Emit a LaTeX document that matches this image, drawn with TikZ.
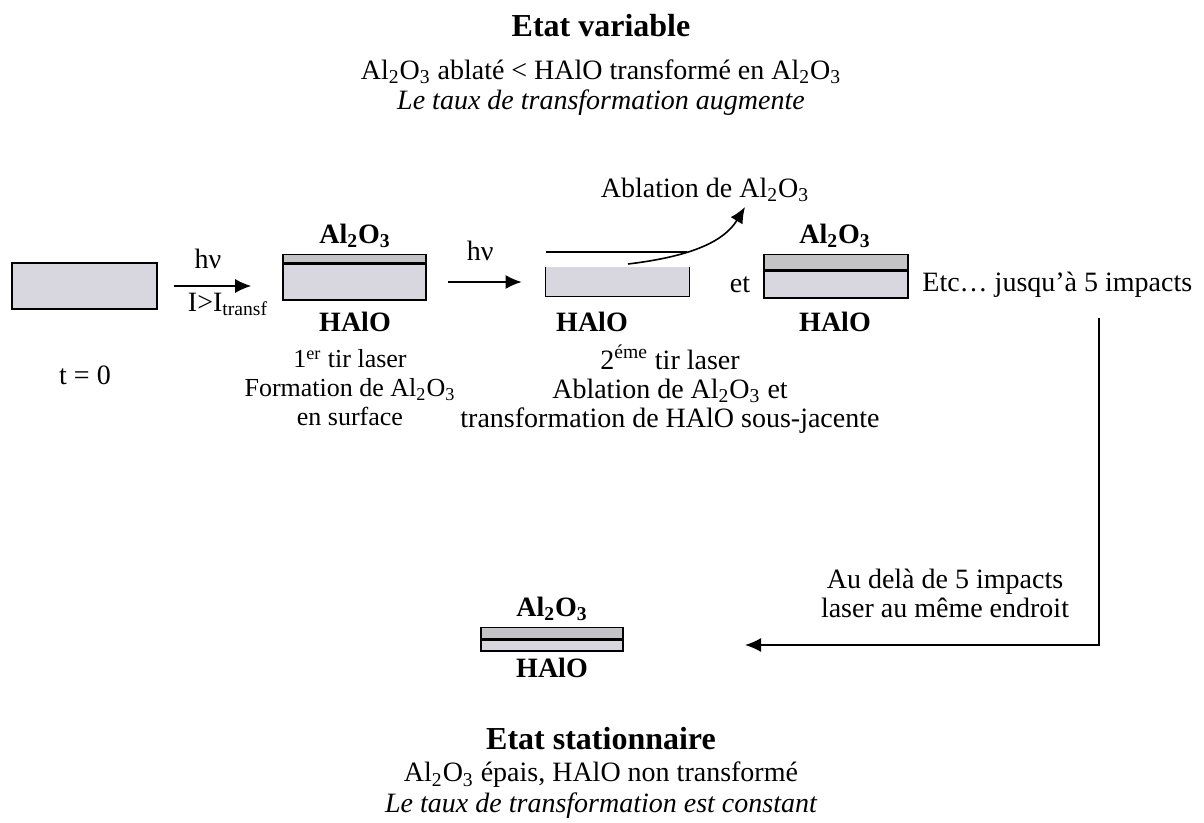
\documentclass[tikz,border=0pt]{standalone}
\usepackage{fontspec}
\setmainfont{Liberation Serif}
\usepackage{xcolor}
\usetikzlibrary{arrows.meta}

\definecolor{halogris}{RGB}{216,215,224}
\definecolor{alugris}{RGB}{196,196,198}
\newcommand{\alo}{Al\textsubscript{2}O\textsubscript{3}}

\tikzset{
  txt/.style={font=\fontsize{14}{14.5}\selectfont, align=center, inner sep=0pt},
  petit/.style={txt, font=\fontsize{13}{14.5}\selectfont},
  titre/.style={font=\fontsize{16}{16}\selectfont\bfseries, inner sep=0pt},
  gras/.style={font=\fontsize{14}{14}\selectfont\bfseries, inner sep=0pt},
  couche/.style={draw, line width=0.8pt, inner sep=0pt, fill=halogris},
  surcouche/.style={couche, fill=alugris},
  fleche/.style={-{Latex[length=8pt,width=7pt]}, line width=0.8pt}
}

\begin{document}
\begin{tikzpicture}[x=0.5pt, y=-0.5pt]
    \useasboundingbox (0,0) rectangle (1204,823);

    % Etat variable (top)
    \node[titre] (tvar) at (601,26) {Etat variable};
    \node[txt] (bilan1) at (601,72) {\alo{} ablaté < HAlO transformé en \alo};
    \node[txt, font=\fontsize{14}{14.5}\selectfont\itshape] (taux1) at (601,103) {Le taux de transformation augmente};

    % t = 0
    \node[couche, minimum width=72.5pt, minimum height=23pt] (b0) at (84.5,286) {};
    \node[txt] (t0) at (85,375) {t = 0};

    % 1er tir
    \node[couche, minimum width=71.5pt, minimum height=18pt] (b1) at (354.5,282) {};
    \node[surcouche, minimum width=71.5pt, minimum height=4pt, anchor=south] (a1) at (b1.north) {};
    \node[gras] (al1) at (355,236) {\alo};
    \node[gras] (h1) at (355,322) {HAlO};
    \node[petit] (tir1) at (350,388) {1\textsuperscript{er} tir laser\\Formation de \alo\\en surface};

    % 2eme tir : ablation
    \node[fill=halogris, minimum width=71.5pt, minimum height=14.5pt, inner sep=0pt] (b2) at (617.5,281.5) {};
    \draw[line width=0.8pt] (b2.north west) |- (b2.south east) -- (b2.north east);
    \coordinate (s2g) at (546,252);
    \coordinate (s2d) at (687,252);
    \draw[line width=0.6pt] (s2g) -- (s2d);
    \node[gras] (h2) at (592,322) {HAlO};
    \node[txt] (abl) at (705,190) {Ablation de \alo};
    \coordinate (dep) at (628,264);
    \coordinate (arr) at (745,207);

    % et : nouvelle couche
    \node[txt] (et) at (740,285) {et};
    \node[couche, minimum width=72pt, minimum height=13.5pt] (b3) at (836,284.5) {};
    \node[surcouche, minimum width=72pt, minimum height=7.5pt, anchor=south] (a3) at (b3.north) {};
    \node[gras] (al3) at (835,236) {\alo};
    \node[gras] (h3) at (835,322) {HAlO};
    \node[txt, anchor=west] (etc) at (922,285) {Etc… jusqu’à 5 impacts};
    \node[txt] (tir2) at (670,389) {2\textsuperscript{éme} tir laser\\Ablation de \alo{} et\\transformation de HAlO sous-jacente};

    % Etat stationnaire
    \node[couche, minimum width=71pt, minimum height=5.5pt] (b4) at (552,645.5) {};
    \node[surcouche, minimum width=71pt, minimum height=5.5pt, anchor=south] (a4) at (b4.north) {};
    \node[gras] (al4) at (552,609) {\alo};
    \node[gras] (h4) at (552,668) {HAlO};
    \node[txt] (audela) at (945,593) {Au delà de 5 impacts\\laser au même endroit};
    \coordinate (coin) at (1099,318);
    \coordinate (fin) at (745,645);

    \node[titre] (tstat) at (601,739) {Etat stationnaire};
    \node[txt] (bilan2) at (601,775) {\alo{} épais, HAlO non transformé};
    \node[txt, font=\fontsize{14}{14.5}\selectfont\itshape] (taux2) at (601,806) {Le taux de transformation est constant};

    % Arrows
    \draw[fleche, shorten <=8pt, shorten >=15.5pt] (b0.east) -- (b0.east -| b1.west)
        node[midway, above=8pt, txt, xshift=-6pt] (hv1) {hν}
        node[midway, below=3pt, txt, xshift=4pt] (cond) {I>I\textsubscript{transf}};
    \draw[fleche, shorten <=10.5pt, shorten >=12pt] (b1.east) -- (b1.east -| b2.west)
        node[midway, above=10pt, txt, xshift=-3pt] (hv2) {hν};
    \draw[fleche] (dep) .. controls (695,256) and (725,240) .. (arr);
    \draw[fleche] (coin) |- (fin);
\end{tikzpicture}
\end{document}
